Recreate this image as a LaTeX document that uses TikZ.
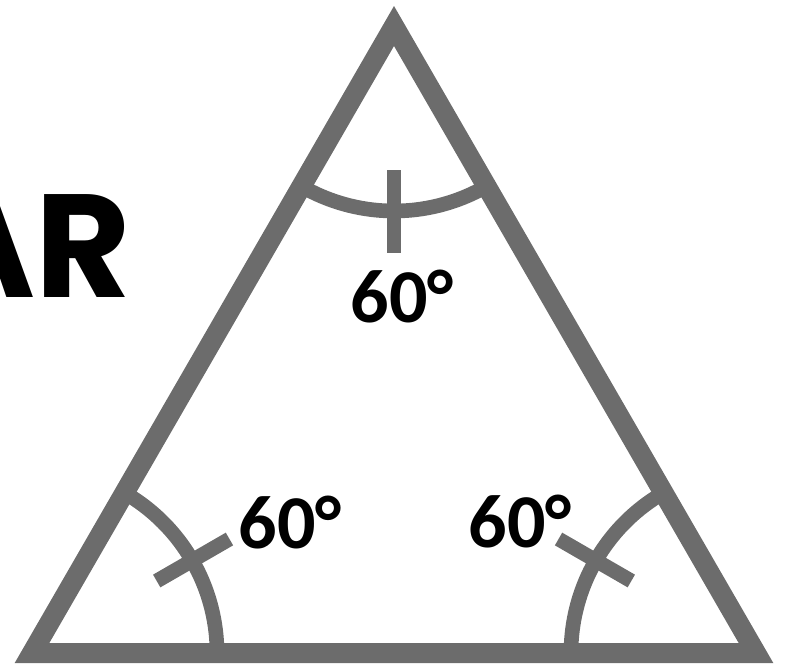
\documentclass[tikz,border=0pt]{standalone}
\usepackage{fontspec}
\usetikzlibrary{calc}
\newfontfamily\lblfont{Carlito}
\newfontfamily\arfont{Poppins}
\definecolor{trigray}{RGB}{108,108,108}
\tikzset{
  side/.style={draw=trigray, line width=15pt, line join=miter},
  anglemark/.style={draw=trigray, line width=11pt},
  deg/.style={font=\lblfont\bfseries\fontsize{57}{57}\selectfont, text=black, inner sep=0pt, anchor=base},
}
\begin{document}
\begin{tikzpicture}[x=0.75pt, y=-0.75pt]
\useasboundingbox (0,0) rectangle (788,664);
\clip (0,0) rectangle (788,664);
\coordinate (A) at (394,26);
\coordinate (B) at (32,653);
\coordinate (C) at (756,653);
% angle arcs
\draw[anglemark] ($(A)+(60:185)$) arc[start angle=60, end angle=120, radius=185];
\draw[anglemark] ($(B)+(-60:185)$) arc[start angle=-60, end angle=0, radius=185];
\draw[anglemark] ($(C)+(180:185)$) arc[start angle=180, end angle=240, radius=185];
% ticks
\coordinate (ta1) at ($(A)+(90:144)$);
\coordinate (ta2) at ($(A)+(90:227)$);
\coordinate (tb1) at ($(B)+(-30:144)$);
\coordinate (tb2) at ($(B)+(-30:228)$);
\coordinate (tc1) at ($(C)+(210:144)$);
\coordinate (tc2) at ($(C)+(210:228)$);
\draw[anglemark] (ta1) -- (ta2);
\draw[anglemark] (tb1) -- (tb2);
\draw[anglemark] (tc1) -- (tc2);
% triangle
\draw[side] (A) -- (B) -- (C) -- cycle;
% labels
\node[deg] (la) at (402,322) {60°};
\node[deg] (lb) at (290,548) {60°};
\node[deg] (lc) at (520,547) {60°};
\node[font=\arfont\bfseries\fontsize{110}{110}\selectfont, inner sep=0pt, anchor=base east] (ar) at (131,297) {AR};
\end{tikzpicture}
\end{document}
